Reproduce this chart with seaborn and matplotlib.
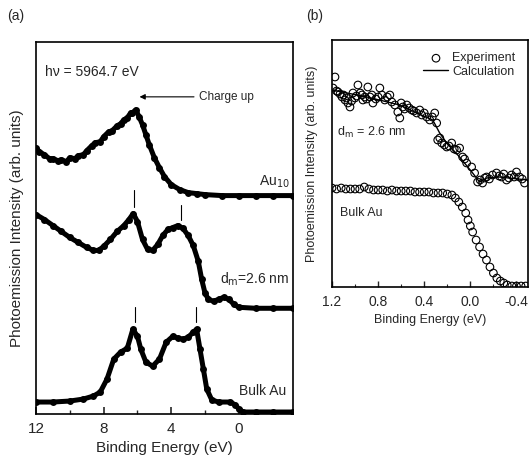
import numpy as np
import matplotlib
matplotlib.use("Agg")
import matplotlib.pyplot as plt
import seaborn as sns

# ---- panel (a): valence band spectra (arb. units, offset curves) ----
au10_e = [12.0, 11.8, 11.5, 11.2, 11.0, 10.7, 10.5, 10.2, 10.0, 9.7, 9.5, 9.2, 9.0, 8.7, 8.5, 8.2,
          8.0, 7.7, 7.5, 7.2, 7.0, 6.8, 6.6, 6.4, 6.3, 6.1, 5.9, 5.7, 5.5, 5.3, 5.0, 4.7,
          4.4, 4.0, 3.5, 3.0, 2.5, 2.0, 1.0, 0.0, -1.0, -2.0, -3.2]
au10_i = [266, 262, 259, 255, 255, 253, 254, 252, 256, 255, 258, 259, 263, 268, 271, 272,
          277, 282, 283, 288, 290, 294, 296, 301, 301, 304, 297, 289, 279, 269, 256, 246,
          237, 229, 224, 221, 220, 219, 218, 218, 218, 218, 218]

dm_e = [12.0, 11.5, 11.0, 10.5, 10.0, 9.5, 9.0, 8.6, 8.3, 8.0, 7.6, 7.2, 6.8, 6.5, 6.25, 6.0,
        5.7, 5.4, 5.1, 4.8, 4.5, 4.2, 3.9, 3.6, 3.3, 3.0, 2.7, 2.4, 2.2, 2.0, 1.8, 1.5,
        1.2, 0.9, 0.6, 0.3, 0.0, -1.0, -2.0, -3.2]
dm_i = [199, 194, 188, 182, 176, 171, 166, 163, 163, 167, 174, 182, 188, 194, 200, 192,
        174, 164, 163, 169, 178, 184, 186, 188, 185, 178, 168, 152, 134, 120, 114, 112,
        114, 116, 114, 109, 106, 105, 105, 105]

bulk_e = [12.0, 11.0, 10.0, 9.2, 8.6, 8.2, 7.8, 7.4, 7.0, 6.6, 6.27, 6.0, 5.8, 5.5, 5.1, 4.7,
          4.3, 3.9, 3.6, 3.3, 3.0, 2.7, 2.5, 2.3, 2.1, 1.9, 1.6, 1.2, 0.5, 0.2, 0.0, -0.25,
          -1.0, -2.0, -3.2]
bulk_i = [11, 11, 12, 14, 17, 21, 34, 54, 61, 65, 84, 77, 64, 51, 47, 54,
          71, 77, 75, 74, 76, 81, 84, 64, 44, 24, 13, 11, 11, 8, 4, 1,
          1, 1, 1]

xticks_a = [12, 8, 4, 0]

# ---- panel (b): near Fermi edge ----
exp_e = [1.174, 1.191, 1.160, 1.148, 1.130, 1.113, 1.100, 1.087, 1.075, 1.062, 1.044, 1.030,
         1.018, 1.001, 0.988, 0.975, 0.955, 0.940, 0.932, 0.915, 0.900, 0.889, 0.870, 0.854,
         0.845, 0.820, 0.800, 0.785, 0.767, 0.742, 0.720, 0.698, 0.681, 0.655, 0.629, 0.612,
         0.600, 0.586, 0.570, 0.551, 0.530, 0.508, 0.490, 0.465, 0.439, 0.421, 0.400, 0.378,
         0.352, 0.330, 0.309, 0.292, 0.283, 0.265, 0.248, 0.225, 0.205, 0.185, 0.162, 0.140,
         0.119, 0.093, 0.067, 0.050, 0.032, -0.011, -0.037, -0.063, -0.085, -0.106, -0.125,
         -0.141, -0.165, -0.193, -0.227, -0.250, -0.271, -0.290, -0.314, -0.335, -0.357,
         -0.380, -0.400, -0.426, -0.450, -0.470]
exp_i = [210, 199, 196, 195, 193, 190, 192, 187, 189, 184, 180, 186,
         194, 189, 191, 202, 194, 192, 187, 190, 188, 200, 190, 192,
         184, 188, 190, 199, 192, 187, 190, 192, 185, 182, 175, 169,
         184, 180, 178, 182, 179, 177, 176, 174, 177, 172, 174, 170,
         167, 170, 174, 164, 147, 149, 144, 142, 140, 141, 144, 138,
         137, 139, 130, 128, 124, 120, 114, 105, 107, 104, 109,
         110, 108, 112, 114, 111, 110, 113, 107, 109, 112,
         110, 115, 110, 108, 104]

calc_e = [1.2, 0.897, 0.612, 0.465, 0.326, 0.266, 0.205, 0.093, -0.02, -0.08, -0.141, -0.253, -0.495]
calc_i = [197, 190, 182, 174, 167, 154, 144, 130, 114, 105, 109, 110, 107]

bulkb_e = [1.2, 1.16, 1.12, 1.08, 1.04, 1.0, 0.96, 0.92, 0.88, 0.84, 0.8, 0.76, 0.72, 0.68,
           0.64, 0.6, 0.56, 0.52, 0.48, 0.44, 0.40, 0.36, 0.32, 0.28, 0.24, 0.20, 0.16, 0.13,
           0.10, 0.07, 0.04, 0.02, 0.0, -0.02, -0.05, -0.08, -0.11, -0.14, -0.17, -0.20, -0.23,
           -0.26, -0.29, -0.32, -0.36, -0.40, -0.44, -0.48]
bulkb_i = [99, 98, 99, 98, 98, 98, 98, 100, 98, 97, 97, 97, 96, 97,
           96, 96, 96, 96, 95, 95, 95, 95, 94, 94, 94, 93, 92, 89,
           85, 80, 74, 67, 61, 55, 47, 40, 33, 27, 20, 14, 9,
           6, 4, 2, 1, 1, 1, 1]

xticks_b = [1.2, 0.8, 0.4, 0.0, -0.4]

sns.set_style("ticks")
plt.rcParams['font.family'] = ['Liberation Sans', 'DejaVu Sans']

fig = plt.figure(figsize=(5.3, 4.55), dpi=100)
ax1 = fig.add_axes([0.0679, 0.0901, 0.4849, 0.8176])
ax2 = fig.add_axes([0.6264, 0.3692, 0.3698, 0.5429])

# panel (a)
for e, v in [(au10_e, au10_i), (dm_e, dm_i), (bulk_e, bulk_i)]:
    sns.lineplot(x=e, y=v, ax=ax1, color='black', linewidth=3.6, sort=False,
                 estimator=None, marker='o', markersize=5, markeredgewidth=0)

ax1.set_xlim(12, -3.2)
ax1.set_ylim(-1, 372)
ax1.set_xticks(xticks_a)
ax1.set_xticks([10, 6, 2, -2], minor=True)
ax1.set_yticks([])
ax1.tick_params(axis='x', which='major', direction='in', length=5, width=1.2, labelsize=11, pad=6)
ax1.tick_params(axis='x', which='minor', direction='in', length=3, width=1.0)
ax1.set_xlabel('Binding Energy (eV)', fontsize=11)
ax1.set_ylabel('Photoemission Intensity (arb. units)', fontsize=11)
ax1.xaxis.set_label_coords(0.5, -0.072)
ax1.yaxis.set_label_coords(-0.045, 0.5)

# peak markers
for e, y0, y1 in [(6.2, 207, 224), (3.4, 194, 209), (6.15, 91, 106), (2.55, 91, 106)]:
    ax1.plot([e, e], [y0, y1], color='black', lw=0.8)

ax1.text(11.48, 342, 'h\u03bd = 5964.7 eV', fontsize=10, va='center')
ax1.annotate('', xy=(6.04, 317), xytext=(2.49, 317),
             arrowprops=dict(arrowstyle='-|>', color='black', lw=0.8, mutation_scale=8))
ax1.text(2.35, 317, 'Charge up', fontsize=8.5, va='center')
ax1.text(-3.0, 232, r'Au$_{10}$', fontsize=10, ha='right', va='center')
ax1.text(-3.0, 134, r'd$_\mathrm{m}$=2.6 nm', fontsize=10, ha='right', va='center')
ax1.text(-2.8, 22, 'Bulk Au', fontsize=10, ha='right', va='center')
fig.text(0.013, 0.955, '(a)', fontsize=10)

# panel (b)
sns.scatterplot(x=exp_e, y=exp_i, ax=ax2, marker='o', s=30, facecolors='none',
                edgecolor='black', linewidth=0.8, label='Experiment')
sns.lineplot(x=calc_e, y=calc_i, ax=ax2, color='black', linewidth=1.0, sort=False,
             estimator=None, label='Calculation')
sns.scatterplot(x=bulkb_e, y=bulkb_i, ax=ax2, marker='o', s=30, facecolors='none',
                edgecolor='black', linewidth=0.8)

ax2.set_xlim(1.2, -0.5)
ax2.set_ylim(0, 247)
ax2.set_xticks(xticks_b)
ax2.set_xticklabels(['1.2', '0.8', '0.4', '0.0', '-0.4'])
ax2.set_xticks([1.0, 0.6, 0.2, -0.2], minor=True)
ax2.set_yticks([])
ax2.tick_params(axis='x', which='major', direction='in', length=4, width=1.0, labelsize=10, pad=6)
ax2.tick_params(axis='x', which='minor', direction='in', length=2.5, width=0.8)
ax2.set_xlabel('Binding Energy (eV)', fontsize=9)
ax2.set_ylabel('Photoemission Intensity (arb. units)', fontsize=9)
ax2.xaxis.set_label_coords(0.5, -0.108)
ax2.yaxis.set_label_coords(-0.07, 0.5)
ax2.text(1.157, 155, r'd$_\mathrm{m}$ = 2.6 nm', fontsize=9, va='center')
ax2.text(1.13, 74, 'Bulk Au', fontsize=9, va='center')
fig.text(0.578, 0.955, '(b)', fontsize=10)

leg = ax2.legend(loc='upper right', frameon=False, fontsize=9, handlelength=2.0,
                 handletextpad=0.3, borderaxespad=0.6, labelspacing=0.1)

for ax in (ax1, ax2):
    for sp in ax.spines.values():
        sp.set_visible(True)
        sp.set_linewidth(1.2)
        sp.set_color('black')

fig.savefig('out.png', dpi=100)
